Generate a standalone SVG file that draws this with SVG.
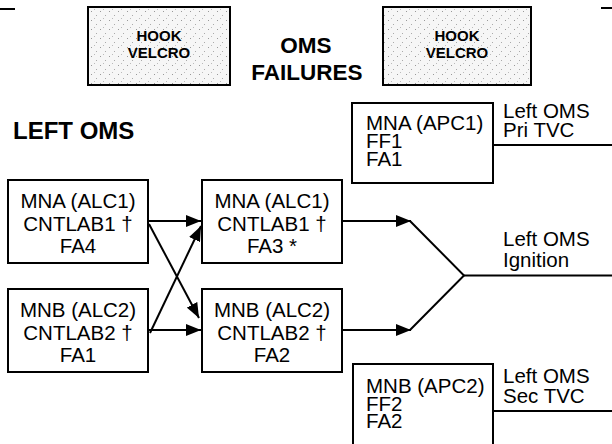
<svg xmlns="http://www.w3.org/2000/svg" width="612" height="444" viewBox="0 0 612 444">
<style>
.box{fill:#fff;stroke:#000;stroke-width:2}
.hook{fill:url(#stip);stroke:#000;stroke-width:2}
.t{font-family:"Liberation Sans",Arial,sans-serif;font-size:20.5px;fill:#000}
.h{font-family:"Liberation Sans",Arial,sans-serif;font-size:15px;font-weight:bold;fill:#000;text-anchor:middle}
.ti{font-family:"Liberation Sans",Arial,sans-serif;font-size:22.5px;font-weight:bold;fill:#000;text-anchor:middle}
.lo{font-family:"Liberation Sans",Arial,sans-serif;font-size:24px;font-weight:bold;fill:#000}
.c{text-anchor:middle}
.ln{stroke:#000;stroke-width:2;fill:none}
</style>
<defs>
<pattern id="stip" width="9" height="9" patternUnits="userSpaceOnUse">
<rect width="9" height="9" fill="#f6f6f6"/>
<rect x="1" y="2" width="1" height="1" fill="#999"/>
<rect x="6" y="6" width="1" height="1" fill="#aaa"/>
<rect x="4" y="0" width="1" height="1" fill="#bbb"/>
</pattern>
<marker id="ah" markerUnits="userSpaceOnUse" markerWidth="16" markerHeight="12" viewBox="0 0 16 12" refX="15" refY="6" orient="auto">
<path d="M0,0 L15,6 L0,12 Z" fill="#000"/>
</marker>
</defs>
<line class="ln" x1="0" y1="9" x2="15" y2="9"/>
<line class="ln" x1="601" y1="8" x2="612" y2="8"/>
<g id="hook1">
<rect class="hook" x="88" y="7" width="142" height="78"/>
<text class="h" x="159" y="41">HOOK</text>
<text class="h" x="159" y="58">VELCRO</text>
</g>
<g id="title">
<text class="ti" x="306" y="53">OMS</text>
<text class="ti" x="307" y="80">FAILURES</text>
</g>
<g id="hook2">
<rect class="hook" x="383" y="7" width="148" height="78"/>
<text class="h" x="457" y="41">HOOK</text>
<text class="h" x="457" y="58">VELCRO</text>
</g>
<g id="leftoms">
<text class="lo" x="13" y="139">LEFT OMS</text>
</g>
<g id="apc1">
<rect class="box" x="352" y="103" width="141" height="80"/>
<text class="t" x="366" y="130">MNA (APC1)</text>
<text class="t" x="366" y="148">FF1</text>
<text class="t" x="366" y="166">FA1</text>
</g>
<g id="apc2">
<rect class="box" x="353" y="364" width="140" height="90"/>
<text class="t" x="366" y="393">MNB (APC2)</text>
<text class="t" x="366" y="411">FF2</text>
<text class="t" x="366" y="428">FA2</text>
</g>
<g id="a1">
<rect class="box" x="8" y="180" width="140" height="83"/>
<text class="t c" x="78" y="208">MNA (ALC1)</text>
<text class="t c" x="78" y="231">CNTLAB1 †</text>
<text class="t c" x="78" y="253">FA4</text>
</g>
<g id="b1">
<rect class="box" x="8" y="289" width="140" height="83"/>
<text class="t c" x="78" y="317">MNB (ALC2)</text>
<text class="t c" x="78" y="340">CNTLAB2 †</text>
<text class="t c" x="78" y="362">FA1</text>
</g>
<g id="a2">
<rect class="box" x="202" y="180" width="140" height="83"/>
<text class="t c" x="272" y="208">MNA (ALC1)</text>
<text class="t c" x="272" y="231">CNTLAB1 †</text>
<text class="t c" x="272" y="253">FA3 *</text>
</g>
<g id="b2">
<rect class="box" x="202" y="289" width="140" height="83"/>
<text class="t c" x="272" y="317">MNB (ALC2)</text>
<text class="t c" x="272" y="340">CNTLAB2 †</text>
<text class="t c" x="272" y="362">FA2</text>
</g>
<g id="labels">
<text class="t" x="503" y="118">Left OMS</text>
<text class="t" x="503" y="137">Pri TVC</text>
<text class="t" x="503" y="246">Left OMS</text>
<text class="t" x="503" y="267">Ignition</text>
<text class="t" x="503" y="383">Left OMS</text>
<text class="t" x="503" y="403">Sec TVC</text>
</g>
<g id="connectors">
<line class="ln" x1="148" y1="221" x2="201" y2="221" marker-end="url(#ah)"/>
<line class="ln" x1="148" y1="330" x2="201" y2="330" marker-end="url(#ah)"/>
<line class="ln" x1="149" y1="224" x2="199" y2="318" marker-end="url(#ah)"/>
<line class="ln" x1="150" y1="333" x2="201" y2="226" marker-end="url(#ah)"/>
<line class="ln" x1="342" y1="221" x2="411" y2="221" marker-end="url(#ah)"/>
<line class="ln" x1="342" y1="330" x2="411" y2="330" marker-end="url(#ah)"/>
<polyline class="ln" points="410,221 464,275.5 410,330"/>
<line class="ln" x1="464" y1="275.5" x2="612" y2="275.5"/>
<line class="ln" x1="493" y1="145" x2="612" y2="145"/>
<line class="ln" x1="493" y1="411" x2="612" y2="411"/>
</g>
</svg>
